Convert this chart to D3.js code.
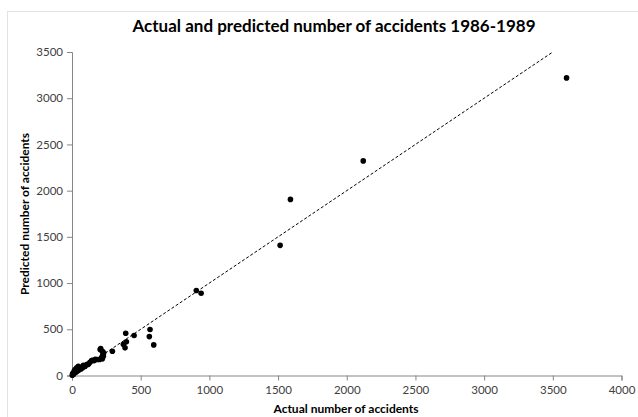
<!DOCTYPE html>
<html>
<head>
<meta charset="utf-8">
<script src="https://cdn.jsdelivr.net/npm/d3@7"></script>
<style>
  body { margin: 0; background: #fff; }
  text { font-family: Lato, "Open Sans", sans-serif; }
</style>
</head>
<body>
<div id="chart"></div>
<script>
const actual = [3600, 2120, 1590, 1515, 905, 940, 568, 563, 595, 391, 396, 452, 374, 386, 294,
    209, 221, 231, 228, 221, 199, 184, 143, 131, 107, 83, 46, 58, 34, 22, 15, 5, 10, 2,
    28, 40, 65, 75, 160, 120, 95, 8, 12, 18, 50, 90, 115, 150, 170, 215, 225, 205]
const predicted = [3220, 2322, 1905, 1408, 920, 890, 497, 421, 331, 457, 364, 432, 338, 299, 262,
    292, 262, 245, 208, 180, 173, 173, 162, 144, 119, 111, 100, 88, 83, 65, 46, 22, 12, 4,
    35, 50, 70, 80, 160, 125, 100, 15, 20, 28, 60, 95, 120, 165, 175, 195, 230, 280]
const xTicks = [0, 500, 1000, 1500, 2000, 2500, 3000, 3500, 4000]
const yTicks = [0, 500, 1000, 1500, 2000, 2500, 3000, 3500]
const refLine = [0, 3500]

const width = 638
const height = 417

const x = d3.scaleLinear().domain([0, 4000]).range([72, 621.5])
const y = d3.scaleLinear().domain([0, 3500]).range([375.5, 52])

const svg = d3.select("#chart").append("svg")
    .attr("width", width)
    .attr("height", height)

// chart area border (runs off the picture on the right and bottom)
svg.append("rect")
    .attr("x", 7.5).attr("y", 11.5)
    .attr("width", 700).attr("height", 500)
    .attr("fill", "none")
    .attr("stroke", "#e3e3e3")

svg.append("text")
    .attr("x", 334).attr("y", 32)
    .attr("text-anchor", "middle")
    .attr("font-size", 17)
    .attr("font-weight", "bold")
    .attr("fill", "#000")
    .text("Actual and predicted number of accidents 1986-1989")

const xAxis = svg.append("g")
    .attr("transform", `translate(0, ${y(0)})`)
    .call(d3.axisBottom(x).tickValues(xTicks).tickSize(5).tickPadding(5).tickFormat(d3.format("d")))
const yAxis = svg.append("g")
    .attr("transform", `translate(${x(0)}, 0)`)
    .call(d3.axisLeft(y).tickValues(yTicks).tickSize(5).tickPadding(4).tickFormat(d3.format("d")))

for (const ax of [xAxis, yAxis]) {
    ax.select(".domain").attr("stroke", "#868686")
    ax.selectAll(".tick line").attr("stroke", "#868686")
    ax.selectAll(".tick text")
        .attr("fill", "#404040")
        .attr("font-size", 11.5)
        .style("font-family", "Lato, 'Open Sans', sans-serif")
}

svg.append("path")
    .datum(refLine)
    .attr("fill", "none")
    .attr("stroke", "#000")
    .attr("stroke-width", 1)
    .attr("stroke-dasharray", "3,2")
    .attr("d", d3.line().x(d => x(d)).y(d => y(d)))

svg.append("g")
    .selectAll("circle")
    .data(actual.map((a, i) => [a, predicted[i]]))
    .join("circle")
    .attr("cx", d => x(d[0]))
    .attr("cy", d => y(d[1]))
    .attr("r", 2.8)
    .attr("fill", "#000")

svg.append("text")
    .attr("x", 346).attr("y", 413)
    .attr("text-anchor", "middle")
    .attr("font-size", 12)
    .attr("font-weight", "bold")
    .text("Actual number of accidents")

svg.append("text")
    .attr("transform", "translate(29, 214) rotate(-90)")
    .attr("text-anchor", "middle")
    .attr("font-size", 12)
    .attr("font-weight", "bold")
    .text("Predicted number of accidents")
</script>
</body>
</html>
